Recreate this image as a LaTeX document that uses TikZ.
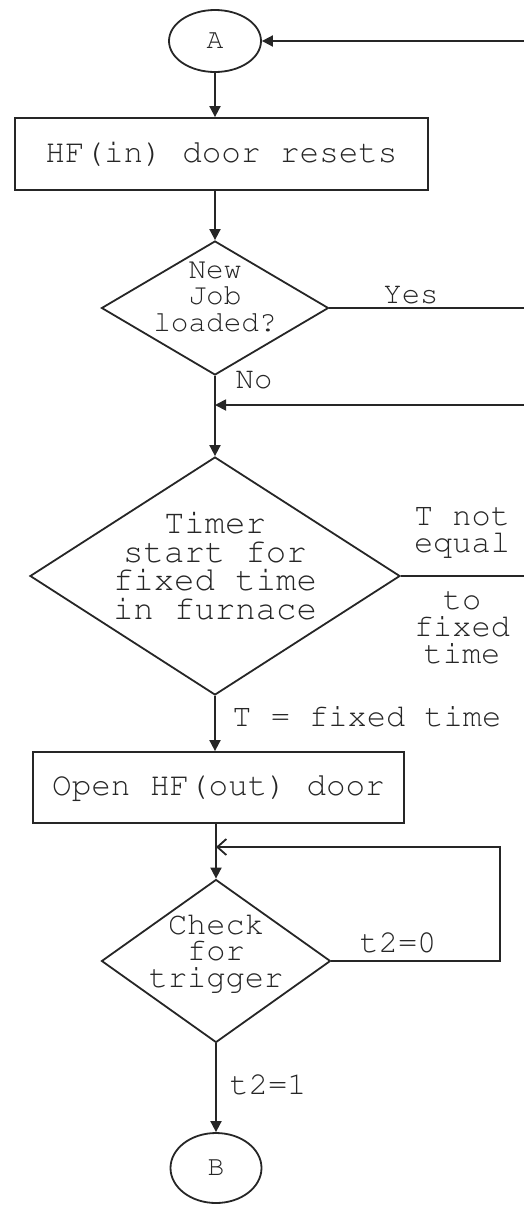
\documentclass[tikz,border=0pt]{standalone}
\usepackage[T1]{fontenc}
\usepackage{courier}
\usetikzlibrary{shapes.geometric,arrows.meta}
\begin{document}
\begin{tikzpicture}[x=0.5pt,y=-0.5pt,
  line/.style={draw=black!85,line width=0.9pt},
  arr/.style={line,-{Triangle[length=5.5pt,width=5.5pt]}},
  openarr/.style={line,-{Straight Barb[length=4.5pt,width=8pt]}},
  txt/.style={font=\ttfamily\fontsize{16}{13.5}\selectfont,text=black!85,align=center,inner sep=0pt},
  proc/.style={draw=black!85,line width=0.9pt,rectangle,inner sep=0pt,
    font=\ttfamily\fontsize{16.3}{14}\selectfont,text=black!85},
  dec/.style={draw=black!85,line width=0.9pt,diamond,inner sep=0pt},
  term/.style={draw=black!85,line width=0.9pt,ellipse,inner sep=0pt,
    font=\ttfamily\fontsize{14}{14}\selectfont,text=black!85}
]
\useasboundingbox (0,0) rectangle (524,1205);

% terminals
\node[term,minimum width=46pt,minimum height=31pt] (A) at (215,41) {A};
\node[term,minimum width=45.5pt,minimum height=35pt] (B) at (216,1168) {B};

% process boxes
\node[proc,minimum width=206.5pt,minimum height=36pt] (b1) at (221.5,154) {HF(in) door resets};
\node[proc,minimum width=185.5pt,minimum height=35.5pt] (b2) at (218.5,787.5) {Open HF(out) door};

% decisions
\node[dec,minimum width=113.5pt,minimum height=67pt] (d1) at (215,308) {};
\node[txt,font=\ttfamily\fontsize{14.7}{13.2}\selectfont] (d1t) at (215,297) {New\\Job\\loaded?};
\node[dec,minimum width=185pt,minimum height=119pt] (d2) at (215,576) {};
\node[txt,font=\ttfamily\fontsize{17}{14.25}\selectfont] (d2t) at (215,566) {Timer\\start for\\fixed time\\in furnace};
\node[dec,minimum width=114.5pt,minimum height=81.5pt] (d3) at (216,961) {};
\node[txt,font=\ttfamily\fontsize{16}{13.3}\selectfont] (d3t) at (216,953) {Check\\for\\trigger};

% free ends at the right edge
\coordinate (eA) at (524,41);
\coordinate (eYes) at (524,308);
\coordinate (eM) at (524,405);
\coordinate (eNot) at (524,576);
\coordinate (lp) at (500,847);

% main flow
\draw[arr] (eA) -- (A.east);
\draw[arr] (A.south) -- (A.south |- b1.north);
\draw[arr] (d1.north |- b1.south) -- (d1.north);
\draw[line] (d1.east) -- (eYes);
\draw[arr] (d1.south) -- (d2.north);
\draw[arr] (eM) -- (d1.south |- eM);
\draw[line] (d2.east) -- (eNot);
\draw[arr] (d2.south) -- (d2.south |- b2.north);
\draw[arr] (d3.north |- b2.south) -- (d3.north);
\draw[openarr] (d3.east) -| (lp) -- (d3.north |- lp);
\draw[arr] (d3.south) -- (B.north);

% branch labels
\node[txt,font=\ttfamily\fontsize{15.3}{14}\selectfont] (lyes) at (411,295) {Yes};
\node[txt,font=\ttfamily\fontsize{15.3}{14}\selectfont] (lno) at (254,380) {No};
\node[txt] (lnot1) at (462,533) {T not\\equal};
\node[txt] (lnot2) at (462,628) {to\\fixed\\time};
\node[txt,anchor=west] (leq) at (232,717) {T = fixed time};
\node[txt] (lt0) at (398,943) {t2=0};
\node[txt] (lt1) at (268,1085) {t2=1};
\end{tikzpicture}
\end{document}
